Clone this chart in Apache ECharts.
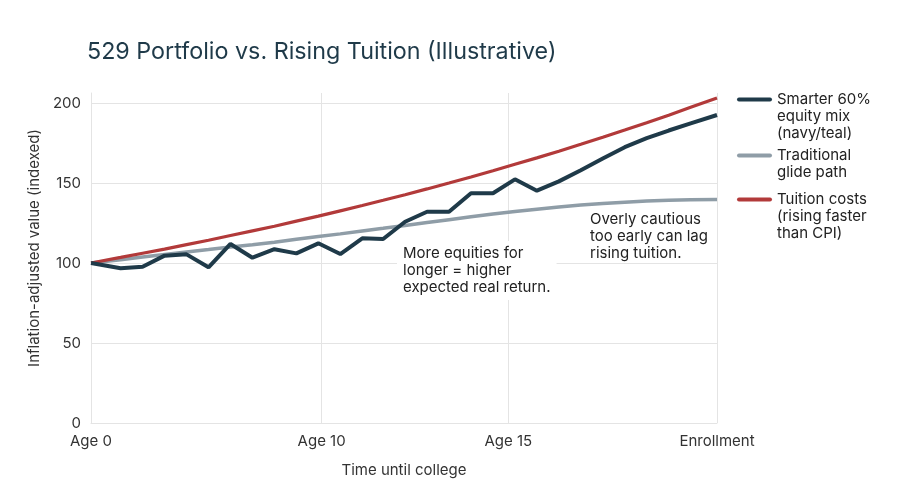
<!DOCTYPE html>
<html>
<head>
<meta charset="utf-8">
<script src="https://cdn.jsdelivr.net/npm/echarts@6/dist/echarts.min.js"></script>
<style>
  html, body { margin: 0; padding: 0; background: #ffffff; }
  #chart { width: 899px; height: 502px; }
</style>
</head>
<body>
<div id="chart"></div>
<script>
// ---- data ----
// x positions of the sampled points, in axis steps (axis spans 0..57)
const xPos = [0, 2.7, 4.7, 6.7, 8.7, 10.7, 12.7, 14.7, 16.7, 18.7, 20.7, 22.7, 24.7, 26.6, 28.6,
  30.6, 32.6, 34.6, 36.6, 38.6, 40.6, 42.6, 44.6, 46.6, 48.6, 50.6, 52.6, 54.6, 57];
const smarter = [100, 96.7, 97.7, 104.6, 105.4, 97.3, 111.9, 103.3, 108.6, 106, 112.3, 105.6, 115.4, 115, 125.8,
  132, 132, 143.6, 143.6, 152.3, 145.2, 151, 158, 165.3, 172.4, 178, 182.8, 187.3, 192.5];
const traditional = [100, 102.1, 103.7, 105.3, 106.9, 108.4, 110, 111.4, 113, 114.8, 116.5, 118.2, 120, 121.7, 123.5,
  125.3, 127.1, 128.9, 130.6, 132.2, 133.6, 135, 136.2, 137.2, 138, 138.7, 139.2, 139.5, 139.7];
const tuition = [100, 103.5, 106.1, 108.7, 111.5, 114.2, 117.2, 120.1, 123, 126.2, 129.3, 132.6, 135.9, 139.2, 142.7,
  146.3, 150, 153.8, 157.7, 161.7, 165.7, 169.9, 174.2, 178.6, 183.1, 187.7, 192.4, 197.3, 203.1];
const xTickPos = [0, 21, 38, 57];
const xTickLabels = ['Age 0', 'Age 10', 'Age 15', 'Enrollment'];
const yTicks = [0, 50, 100, 150, 200];
const seriesNames = ['Smarter 60%\nequity mix\n(navy/teal)', 'Traditional\nglide path', 'Tuition costs\n(rising faster\nthan CPI)'];
const notes = ['More equities for\nlonger = higher\nexpected real return.', 'Overly cautious\ntoo early can lag\nrising tuition.'];

// ---- styling ----
const FONT = 'Inter, "Noto Sans", sans-serif';
const NAVY = '#1f3a49';
const GRAY = '#8f9da7';
const RED = '#b23a3a';
const GRID = '#e4e4e4';
const XMAX = 57;
const LH = 17;

const pair = (ys) => xPos.map((x, i) => [x, ys[i]]);

const xSplitColors = [];
for (let i = 0; i <= XMAX; i++) xSplitColors.push(xTickPos.indexOf(i) >= 0 ? GRID : 'rgba(0,0,0,0)');

// legend icon: a 35x4 pill drawn at the height of the first text line of a box of `lines` text lines
function legendFor(name, top, lines) {
  const h = LH * lines;
  const c = LH / 2;
  const icon = 'path://M0 0M2 ' + (c - 2) + 'H33A2 2 0 0 1 33 ' + (c + 2) + 'H2A2 2 0 0 1 2 ' + (c - 2) + 'ZM35 ' + h;
  return {
    data: [name], left: 737, top: top, orient: 'vertical', padding: 0,
    icon: icon, itemWidth: 35, itemHeight: h, selectedMode: false, symbolKeepAspect: false,
    textStyle: { fontFamily: FONT, fontSize: 15, color: '#222', lineHeight: LH }
  };
}

const chart = echarts.init(document.getElementById('chart'), null, { renderer: 'canvas' });
chart.setOption({
  backgroundColor: '#ffffff',
  animation: false,
  title: {
    text: '529 Portfolio vs. Rising Tuition (Illustrative)',
    left: 82, top: 35,
    textStyle: { fontFamily: FONT, fontSize: 23.3, fontWeight: 'normal', color: '#1f3a49' }
  },
  legend: [
    legendFor(seriesNames[0], 91, 3),
    legendFor(seriesNames[1], 147, 2),
    legendFor(seriesNames[2], 191, 3)
  ],
  grid: { left: 91, right: 182, top: 93, bottom: 79, containLabel: false },
  xAxis: {
    type: 'value', min: 0, max: XMAX, interval: 1,
    name: 'Time until college', nameLocation: 'middle', nameGap: 40,
    nameTextStyle: { fontFamily: FONT, fontSize: 15, color: '#333' },
    axisLine: { show: true, lineStyle: { color: GRID, width: 1 } },
    axisTick: { show: false },
    axisLabel: {
      fontFamily: FONT, fontSize: 15, color: '#333', margin: 11, showMinLabel: true, showMaxLabel: true,
      formatter: (v) => { const i = xTickPos.indexOf(v); return i >= 0 ? xTickLabels[i] : ''; }
    },
    splitLine: { show: true, lineStyle: { color: xSplitColors, width: 1 } }
  },
  yAxis: {
    type: 'value', min: 0, max: 206.25, interval: 50,
    name: 'Inflation-adjusted value (indexed)', nameLocation: 'middle', nameGap: 47, nameRotate: 90,
    nameTextStyle: { fontFamily: FONT, fontSize: 15, color: '#333', padding: [0, 0, 0, 20] },
    axisLine: { show: true, lineStyle: { color: GRID, width: 1 } },
    axisTick: { show: false },
    axisLabel: {
      fontFamily: FONT, fontSize: 15, color: '#333', margin: 10, showMaxLabel: false,
      formatter: (v) => (yTicks.indexOf(v) >= 0 ? String(v) : '')
    },
    splitLine: { show: true, showMaxLine: false, lineStyle: { color: GRID, width: 1 } }
  },
  graphic: [
    {
      type: 'text', left: 397, top: 241, z: 50,
      style: { text: notes[0], font: '15px ' + FONT, fill: '#222', lineHeight: LH,
        backgroundColor: '#ffffff', padding: [4, 6, 4, 6] }
    },
    {
      type: 'text', left: 584, top: 207, z: 50,
      style: { text: notes[1], font: '15px ' + FONT, fill: '#222', lineHeight: LH,
        backgroundColor: '#ffffff', padding: [4, 6, 0, 6] }
    }
  ],
  series: [
    {
      name: seriesNames[1], type: 'line', data: pair(traditional), showSymbol: false, symbol: 'none',
      color: GRAY, lineStyle: { color: GRAY, width: 3.5 }, z: 2
    },
    {
      name: seriesNames[2], type: 'line', data: pair(tuition), showSymbol: false, symbol: 'none',
      color: RED, lineStyle: { color: RED, width: 3.2 }, z: 3
    },
    {
      name: seriesNames[0], type: 'line', data: pair(smarter), showSymbol: false, symbol: 'none',
      color: NAVY, lineStyle: { color: NAVY, width: 4 }, z: 4
    }
  ]
});
</script>
</body>
</html>
